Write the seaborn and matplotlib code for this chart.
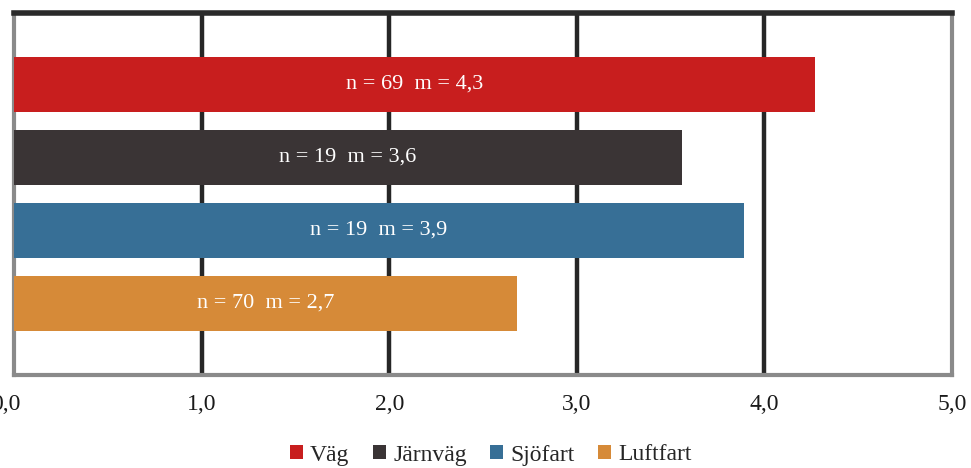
import numpy as np
import pandas as pd
import seaborn as sns
from matplotlib import pyplot as plt
from matplotlib import transforms
from matplotlib.ticker import FuncFormatter
from matplotlib.patches import Patch

# values
categories = ["Väg", "Järnväg", "Sjöfart", "Luftfart"]
means = [4.27, 3.56, 3.89, 2.68]
n_counts = [69, 19, 19, 70]
mean_labels = ["4,3", "3,6", "3,9", "2,7"]
colors = ["#C81E1E", "#3A3435", "#376F96", "#D68A38"]

df = pd.DataFrame({"kategori": categories, "medel": means})

sns.set_theme(style="white")
plt.rcParams["font.family"] = ["Liberation Serif", "DejaVu Serif"]

fig = plt.figure(figsize=(9.71, 4.68), dpi=100)
ax = fig.add_axes([14 / 971, 1 - 375 / 468, (952 - 14) / 971, (375 - 13) / 468])

sns.barplot(data=df, y="kategori", x="medel", hue="kategori", palette=colors,
            order=categories, hue_order=categories, dodge=False, width=0.75,
            saturation=1, linewidth=0, legend=False, ax=ax, zorder=3)

ax.set_xlim(0, 5)
ax.set_ylim(3.98, -0.98)
ax.set_xticks(np.arange(0, 6))
ax.xaxis.set_major_formatter(FuncFormatter(lambda v, p: f"{v:.1f}".replace(".", ",")))
ax.tick_params(axis="x", length=0, pad=14, labelsize=17, labelcolor="#1a1a1a")
ax.set_yticks([])
ax.set_xlabel("")
ax.set_ylabel("")

# the first label sits partly outside the figure in the original
fig.canvas.draw()
first = ax.get_xticklabels()[0]
first.set_transform(first.get_transform() + transforms.ScaledTranslation(-8 / 100, 0, fig.dpi_scale_trans))

# vertical grid lines
for xv in range(1, 5):
    ax.axvline(xv, color="#262626", lw=3.2, zorder=2)

for side in ["left", "right", "bottom"]:
    ax.spines[side].set_color("#8a8a8a")
    ax.spines[side].set_linewidth(3)
ax.spines["top"].set_color("#2a2a2a")
ax.spines["top"].set_linewidth(4)

# labels in the bars
for i, (m, n, lab) in enumerate(zip(means, n_counts, mean_labels)):
    ax.text(m / 2, i, f"n = {n}  m = {lab}", ha="center", va="center",
            color="white", fontsize=16, zorder=4)

handles = [Patch(facecolor=c, edgecolor="none") for c in colors]
fig.legend(handles, categories, loc="center", bbox_to_anchor=(491 / 971, 1 - 455 / 468),
           ncol=4, frameon=False, fontsize=17, handlelength=0.55, handleheight=0.55,
           handletextpad=0.3, columnspacing=1.0)

fig.savefig("out.png", dpi=100)
